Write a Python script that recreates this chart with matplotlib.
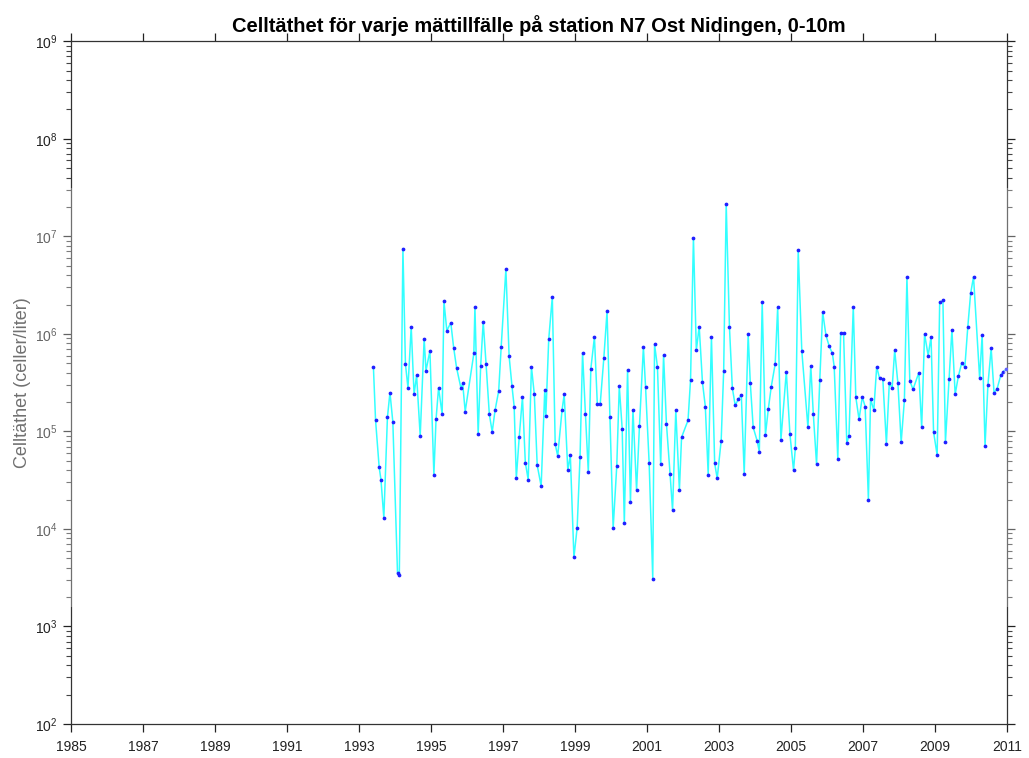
import numpy as np
import matplotlib
matplotlib.use("Agg")
from matplotlib import pyplot as plt
from matplotlib.ticker import LogLocator, FixedLocator
from matplotlib.patches import Rectangle

plt.rcParams["font.family"] = ["Liberation Sans", "DejaVu Sans"]
plt.rcParams["mathtext.fontset"] = "custom"
plt.rcParams["mathtext.rm"] = "Liberation Sans"

# sampling dates (decimal years) and cell density (celler/liter)
years = [
    1993.40, 1993.46, 1993.56, 1993.61, 1993.69, 1993.79, 1993.86, 1993.94, 1994.07, 1994.12,
    1994.22, 1994.29, 1994.36, 1994.45, 1994.53, 1994.60, 1994.70, 1994.81, 1994.86, 1994.97,
    1995.08, 1995.14, 1995.21, 1995.31, 1995.36, 1995.44, 1995.55, 1995.63, 1995.71, 1995.83,
    1995.88, 1995.95, 1996.19, 1996.22, 1996.31, 1996.38, 1996.45, 1996.53, 1996.62, 1996.70,
    1996.78, 1996.88, 1996.95, 1997.08, 1997.17, 1997.25, 1997.31, 1997.37, 1997.45, 1997.54,
    1997.62, 1997.70, 1997.79, 1997.87, 1997.95, 1998.06, 1998.16, 1998.19, 1998.27, 1998.37,
    1998.45, 1998.52, 1998.64, 1998.70, 1998.80, 1998.87, 1998.97, 1999.06, 1999.14, 1999.21,
    1999.29, 1999.37, 1999.44, 1999.54, 1999.62, 1999.70, 1999.80, 1999.89, 1999.97, 2000.06,
    2000.16, 2000.23, 2000.31, 2000.37, 2000.46, 2000.54, 2000.61, 2000.71, 2000.79, 2000.90,
    2000.96, 2001.06, 2001.16, 2001.21, 2001.29, 2001.38, 2001.46, 2001.54, 2001.64, 2001.71,
    2001.80, 2001.90, 2001.96, 2002.14, 2002.21, 2002.29, 2002.37, 2002.45, 2002.54, 2002.62,
    2002.70, 2002.79, 2002.88, 2002.95, 2003.06, 2003.13, 2003.20, 2003.29, 2003.37, 2003.45,
    2003.54, 2003.62, 2003.70, 2003.81, 2003.87, 2003.95, 2004.06, 2004.12, 2004.20, 2004.29,
    2004.37, 2004.45, 2004.56, 2004.63, 2004.72, 2004.87, 2004.97, 2005.07, 2005.12, 2005.20,
    2005.30, 2005.47, 2005.55, 2005.62, 2005.71, 2005.80, 2005.88, 2005.97, 2006.06, 2006.15,
    2006.20, 2006.30, 2006.38, 2006.46, 2006.55, 2006.61, 2006.73, 2006.80, 2006.89, 2006.98,
    2007.06, 2007.15, 2007.21, 2007.30, 2007.38, 2007.46, 2007.55, 2007.65, 2007.73, 2007.81,
    2007.88, 2007.97, 2008.06, 2008.15, 2008.22, 2008.30, 2008.39, 2008.55, 2008.63, 2008.71,
    2008.81, 2008.89, 2008.96, 2009.06, 2009.13, 2009.22, 2009.29, 2009.39, 2009.47, 2009.56,
    2009.65, 2009.74, 2009.83, 2009.91, 2009.99, 2010.07, 2010.24, 2010.31, 2010.39, 2010.47,
    2010.56, 2010.64, 2010.72, 2010.83, 2010.90, 2010.98,
]
celltathet = [
    4.6e5, 1.3e5, 4.3e4, 3.2e4, 1.3e4, 1.4e5, 2.5e5, 1.25e5, 3.5e3, 3.4e3,
    7.5e6, 4.9e5, 2.8e5, 1.18e6, 2.4e5, 3.75e5, 9.0e4, 8.9e5, 4.2e5, 6.7e5,
    3.6e4, 1.33e5, 2.8e5, 1.5e5, 2.15e6, 1.08e6, 1.3e6, 7.2e5, 4.5e5, 2.8e5,
    3.1e5, 1.6e5, 6.3e5, 1.9e6, 9.4e4, 4.7e5, 1.33e6, 4.9e5, 1.5e5, 9.9e4,
    1.65e5, 2.6e5, 7.4e5, 4.6e6, 5.9e5, 2.9e5, 1.8e5, 3.3e4, 8.7e4, 2.25e5,
    4.8e4, 3.2e4, 4.6e5, 2.4e5, 4.5e4, 2.75e4, 2.65e5, 1.45e5, 8.8e5, 2.4e6,
    7.4e4, 5.6e4, 1.65e5, 2.4e5, 4.0e4, 5.7e4, 5.1e3, 1.03e4, 5.5e4, 6.4e5,
    1.5e5, 3.8e4, 4.4e5, 9.3e5, 1.9e5, 1.9e5, 5.6e5, 1.7e6, 1.4e5, 1.02e4,
    4.4e4, 2.9e5, 1.07e5, 1.15e4, 4.3e5, 1.9e4, 1.67e5, 2.5e4, 1.13e5, 7.3e5,
    2.85e5, 4.7e4, 3.1e3, 7.8e5, 4.6e5, 4.6e4, 6.1e5, 1.2e5, 3.7e4, 1.55e4,
    1.65e5, 2.5e4, 8.7e4, 1.3e5, 3.4e5, 9.7e6, 6.8e5, 1.19e6, 3.2e5, 1.8e5,
    3.6e4, 9.3e5, 4.7e4, 3.3e4, 8.0e4, 4.2e5, 2.16e7, 1.18e6, 2.8e5, 1.85e5,
    2.15e5, 2.35e5, 3.7e4, 9.9e5, 3.1e5, 1.1e5, 8.0e4, 6.2e4, 2.1e6, 9.2e4,
    1.7e5, 2.85e5, 4.9e5, 1.87e6, 8.2e4, 4.1e5, 9.4e4, 4.0e4, 6.7e4, 7.2e6,
    6.7e5, 1.1e5, 4.7e5, 1.5e5, 4.6e4, 3.4e5, 1.67e6, 9.7e5, 7.5e5, 6.3e5,
    4.6e5, 5.2e4, 1.03e6, 1.01e6, 7.6e4, 9.0e4, 1.9e6, 2.25e5, 1.33e5, 2.25e5,
    1.8e5, 2.0e4, 2.15e5, 1.65e5, 4.6e5, 3.5e5, 3.45e5, 7.5e4, 3.1e5, 2.8e5,
    6.8e5, 3.1e5, 7.7e4, 2.1e5, 3.8e6, 3.3e5, 2.7e5, 4.0e5, 1.1e5, 1.0e6,
    6.0e5, 9.3e5, 9.9e4, 5.7e4, 2.1e6, 2.2e6, 7.8e4, 3.45e5, 1.1e6, 2.4e5,
    3.7e5, 5.0e5, 4.6e5, 1.17e6, 2.6e6, 3.85e6, 3.5e5, 9.8e5, 7.1e4, 3.0e5,
    7.1e5, 2.5e5, 2.7e5, 3.8e5, 4.1e5, 4.35e5,
]
xticks = list(range(1985, 2012, 2))

fig = plt.figure(figsize=(10.29, 7.58), dpi=100)
ax = fig.add_axes([71 / 1029, 1 - 724 / 758, 936 / 1029, 682.7 / 758])

ax.plot(years, celltathet, color="#33ffff", linewidth=1.1, zorder=2)
ax.plot(years, celltathet, linestyle="none", marker="o", markersize=1.7,
        markerfacecolor="#2020ff", markeredgecolor="#2020ff", zorder=3)

ax.set_yscale("log")
ax.set_ylim(1e2, 1e9)
ax.set_xlim(1985, 2011)
ax.xaxis.set_major_locator(FixedLocator(xticks))
ax.yaxis.set_major_locator(LogLocator(base=10, numticks=20))
ax.yaxis.set_minor_locator(LogLocator(base=10, subs=np.arange(2, 10), numticks=20))
ax.tick_params(axis="both", which="major", direction="out", length=6, width=0.9,
               labelsize=10, colors="#222222", top=True, right=True)
ax.tick_params(axis="x", which="major", pad=5.5)
ax.tick_params(axis="y", which="minor", direction="out", length=3.5, width=0.8,
               left=True, right=True, colors="#444444")
ax.tick_params(axis="x", which="minor", bottom=False, top=False)
for s in ax.spines.values():
    s.set_color("#333333")
    s.set_linewidth(0.9)

ax.set_ylabel("Celltäthet (celler/liter)", fontsize=13, color="#333333", labelpad=3)
ax.set_title("Celltäthet för varje mättillfälle på station N7 Ost Nidingen, 0-10m",
             fontsize=14.5, fontweight="bold", pad=6.5)

# faded band over the side strips seen in the original
for x0, w in [(0.0, 75 / 1029), (1004 / 1029, 25 / 1029)]:
    fig.patches.append(Rectangle((x0, 1 - 607 / 758), w, 419 / 758,
                                 transform=fig.transFigure, facecolor="white",
                                 alpha=0.3, edgecolor="none", zorder=10))

fig.savefig("out.png", dpi=100)
